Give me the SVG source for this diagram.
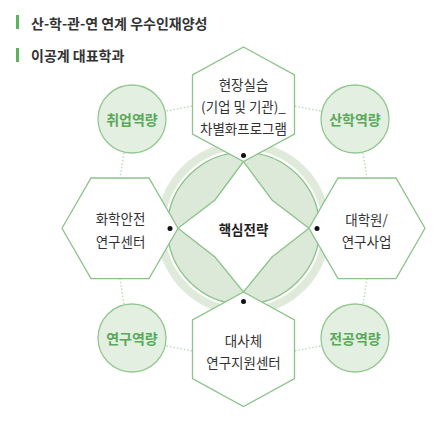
<svg xmlns="http://www.w3.org/2000/svg" width="445" height="423" viewBox="0 0 445 423">
<style>
text{font-family:"Noto Sans CJK KR","Noto Sans",sans-serif;dominant-baseline:central}
.title{font-size:14px;font-weight:bold;fill:#333}
.hex{fill:#fff;stroke:#8cc38a;stroke-width:1.3}
.ht{font-size:13.5px;fill:#333;text-anchor:middle}
.cap{fill:#e3efe0;stroke:#93c790;stroke-width:1.3}
.ct{font-size:14px;font-weight:bold;fill:#5aa85a;text-anchor:middle}
.dot{stroke:#b5d8b2;stroke-width:1.3;stroke-dasharray:1.5 2;fill:none}
</style>
<rect width="445" height="423" fill="#fff"/>
<g id="titles">
<rect x="16" y="15" width="3" height="14" fill="#5cb35c"/>
<text class="title" x="31" y="22.5">산-학-관-연 연계 우수인재양성</text>
<rect x="16" y="48" width="3" height="14" fill="#5cb35c"/>
<text class="title" x="31" y="55">이공계 대표학과</text>
</g>
<g id="connectors">
<line class="dot" x1="166.5" y1="111" x2="192.5" y2="106"/>
<line class="dot" x1="124" y1="153" x2="120" y2="178"/>
<line class="dot" x1="320.5" y1="111" x2="294.5" y2="106"/>
<line class="dot" x1="363" y1="153" x2="367" y2="178"/>
<line class="dot" x1="124" y1="304" x2="120" y2="279"/>
<line class="dot" x1="166.5" y1="346" x2="192.5" y2="351"/>
<line class="dot" x1="363" y1="304" x2="367" y2="279"/>
<line class="dot" x1="320.5" y1="346" x2="294.5" y2="351"/>
</g>
<g id="core">
<circle cx="243.5" cy="228.3" r="87" fill="#dfeadb"/>
<circle cx="243.5" cy="228.3" r="79" fill="#fff"/>
<circle cx="243.5" cy="228.3" r="76" fill="#dde9d8" stroke="#8cc38a" stroke-width="1.3"/>
<polygon points="243.5,161.5 215,200 178,228.3 215,257 243.5,292 272,257 309,228.3 272,200" fill="#fff" stroke="#8cc38a" stroke-width="1.3"/>
<text x="243.5" y="228.5" style="font-size:13.5px;font-weight:bold;fill:#222;text-anchor:middle">핵심전략</text>
</g>
<g id="hex-top">
<polygon class="hex" points="243.5,47 294.5,75 294.5,134 243.5,161.5 192.5,134 192.5,75"/>
<text class="ht" x="243.5" y="83.5">현장실습</text>
<text class="ht" x="243.5" y="105.5">(기업 및 기관)_</text>
<text class="ht" x="243.5" y="127.5">차별화프로그램</text>
</g>
<g id="hex-left">
<polygon class="hex" points="62,228.3 91,178 149,178 178,228.3 149,278.6 91,278.6"/>
<text class="ht" x="120.5" y="217.5">화학안전</text>
<text class="ht" x="120.5" y="240.5">연구센터</text>
</g>
<g id="hex-right">
<polygon class="hex" points="425,228.3 396,178 338,178 309,228.3 338,278.6 396,278.6"/>
<text class="ht" x="366.5" y="219">대학원/</text>
<text class="ht" x="366.5" y="241">연구사업</text>
</g>
<g id="hex-bottom">
<polygon class="hex" points="243.5,292 294.5,320 294.5,378.5 243.5,406.5 192.5,378.5 192.5,320"/>
<text class="ht" x="243.5" y="340">대사체</text>
<text class="ht" x="243.5" y="362">연구지원센터</text>
</g>
<g id="dots" fill="#111">
<circle cx="243.5" cy="155.5" r="2.5"/>
<circle cx="170" cy="228.5" r="2.5"/>
<circle cx="317" cy="228.5" r="2.5"/>
<circle cx="243.5" cy="301.5" r="2.5"/>
</g>
<g id="cap-employ">
<circle class="cap" cx="132" cy="119" r="34"/>
<text class="ct" x="132" y="119">취업역량</text>
</g>
<g id="cap-industry">
<circle class="cap" cx="355" cy="119" r="34"/>
<text class="ct" x="355" y="119">산학역량</text>
</g>
<g id="cap-research">
<circle class="cap" cx="132" cy="338" r="34"/>
<text class="ct" x="132" y="338">연구역량</text>
</g>
<g id="cap-major">
<circle class="cap" cx="355" cy="338" r="34"/>
<text class="ct" x="355" y="338">전공역량</text>
</g>
</svg>
